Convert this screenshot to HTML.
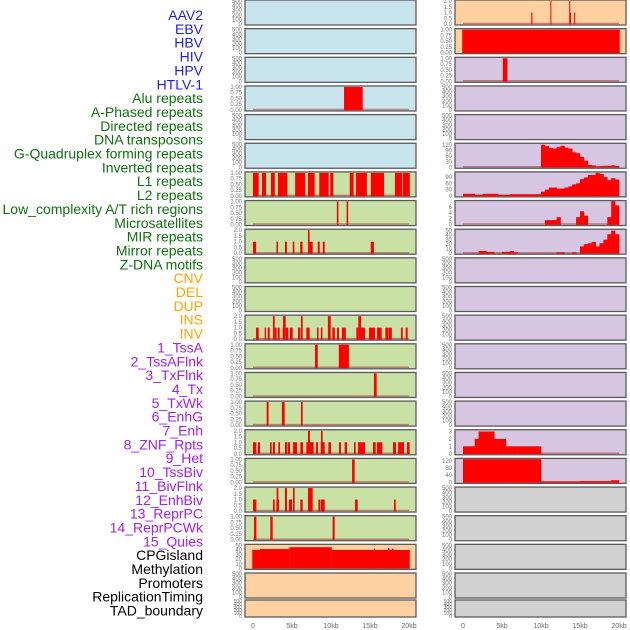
<!DOCTYPE html>
<html><head><meta charset="utf-8"><style>
body{margin:0;background:#fff;width:630px;height:630px;overflow:hidden}
svg{display:block;font-family:"Liberation Sans",sans-serif}
</style></head><body>
<svg id="chart" width="630" height="630" viewBox="0 0 630 630"></svg>
<script>
// ---- labels ----
const trackLabels = ["AAV2","EBV","HBV","HIV","HPV","HTLV-1","Alu repeats","A-Phased repeats","Directed repeats","DNA transposons","G-Quadruplex forming repeats","Inverted repeats","L1 repeats","L2 repeats","Low_complexity A/T rich regions","Microsatellites","MIR repeats","Mirror repeats","Z-DNA motifs","CNV","DEL","DUP","INS","INV","1_TssA","2_TssAFlnk","3_TxFlnk","4_Tx","5_TxWk","6_EnhG","7_Enh","8_ZNF_Rpts","9_Het","10_TssBiv","11_BivFlnk","12_EnhBiv","13_ReprPC","14_ReprPCWk","15_Quies","CPGisland","Methylation","Promoters","ReplicationTiming","TAD_boundary"];
const labelGroups = [6,13,5,15,5];
const xTickLabels = ["0","5kb","10kb","15kb","20kb"];
const xTickValues = [0,5,10,15,20];
// ---- tick label sets ----
const ticks500 = ["0","100","200","300","400","500"];
const ticks1 = ["0.00","0.25","0.50","0.75","1.00"];
const ticks2 = ["0.0","0.5","1.0","1.5","2.0"];
const ticks50 = ["0","10","20","30","40","50"];
const ticks120 = ["0","30","60","90","120"];
const ticks90 = ["0","30","60","90"];
const ticks6 = ["0","2","4","6"];
const ticks3 = ["0","1","2","3"];
const ticks120b = ["0","40","80","120"];
// ---- segment data [startKb, endKb, value] ----
const segAlu = [[11.67,14.06,1]];
const segL1 = [[0,0.73,1],[1.15,1.67,1],[2.3,2.8,1],[3.2,4.4,1],[5.4,6.7,1],[7.05,7.9,1],[8.5,9.7,1],[9.9,10.3,1],[12.4,12.9,1],[13.2,14.6,1],[15.1,16.8,1],[18.2,19.1,1],[19.2,20.1,1]];
const segL2 = [[10.75,10.95,1],[12.0,12.2,1]];
const segMIR = [[0,0.4,1],[3.0,3.2,1],[4.1,4.35,1],[5.1,5.3,1],[6.05,6.35,1],[7.05,7.25,2],[7.25,7.65,1],[8.3,8.55,1],[8.95,9.2,1],[15.1,15.5,1]];
const segINS = [[0.38,0.73,1],[1.5,1.67,1],[1.88,2.14,1],[2.56,2.78,2],[2.78,3.03,1],[3.16,3.42,1],[3.8,4.0,1],[3.85,4.19,2],[4.19,4.53,1],[4.74,5.09,1],[5.77,6.07,1],[6.15,6.37,2],[6.84,7.26,1],[8.2,8.4,1],[8.7,8.9,1],[9.6,9.96,2],[10.17,10.5,1],[10.77,11.03,1],[11.4,11.9,1],[13.25,13.5,1],[13.5,13.85,2],[13.85,14.36,1],[14.87,15.64,1],[15.9,16.5,1],[16.97,17.35,1],[17.4,17.8,1],[18.97,19.2,1],[19.57,19.83,1]];
const segTssA = [[7.95,8.3,1],[11.0,12.3,1]];
const segTssFlnk = [[15.5,15.85,1]];
const segTxFlnk = [[1.75,2.0,1],[3.7,4.06,1],[6.15,6.37,1]];
const segTx = [[0,0.43,1],[0.64,0.9,1],[2.18,2.39,1],[2.56,2.82,1],[3.25,3.46,1],[4.1,4.36,1],[4.44,4.74,1],[5.13,5.64,1],[6.07,6.41,1],[6.84,7.78,1],[7.05,7.3,2],[8.08,8.33,1],[8.68,9.19,1],[8.72,8.93,2],[9.66,10.0,1],[11.03,11.28,1],[11.75,12.05,1],[12.95,13.16,1],[13.46,14.36,1],[15.38,15.73,1],[15.9,16.58,1],[17.95,18.33,1],[18.6,19.36,1],[19.74,20.08,1]];
const segTxWk = [[12.7,13.03,1]];
const segEnhG = [[0,0.43,1],[2.56,2.78,1],[3.0,3.33,1],[3.03,3.25,2],[4.1,4.36,2],[4.6,5.0,1],[5.13,5.34,2],[6.07,6.37,1],[7.05,7.65,2],[8.38,8.6,1],[8.68,9.19,1],[13.08,13.42,1],[18.08,18.3,1]];
const segEnh = [[0.13,0.43,1],[2.22,2.52,1],[10.2,10.47,1]];
const segCPG = [[-0.1,0.9,40],[0.9,4.66,42],[4.66,10.1,46],[10.1,20.1,40],[15.5,15.6,43],[17.3,17.5,44],[17.8,18.0,43]];
const segRightAAV2 = [[8.75,8.9,1],[11.2,11.32,2],[13.62,13.74,2],[13.72,13.84,1],[14.25,14.38,1]];
const segRightEBV = [[-0.1,20.1,1]];
const segRightHBV = [[5.1,5.7,1]];
// ---- histogram data (40 bins of 0.5kb) ----
const histR6 = [0,0,0,0,0,0,0,0,0,0,0,0,0,0,0,0,0,0,0,0,120,113,103,100,108,115,105,100,80,75,55,35,12,10,4,7,8,8,10,7];
const histR7 = [10,10,10,5,5,10,10,10,10,5,5,5,8,8,8,8,8,8,8,8,20,30,40,40,35,35,40,45,55,60,80,88,100,100,110,105,90,75,85,78];
const histR8 = [0,0,0,0,0,0,0,0,0,0,0,0,0,0,0,0,0,0,0,0,0,1.5,1.5,1.5,2.5,0,0,0,0,2.5,4.5,3,0,0,0,0,0,2.5,8,6.5];
const histR9 = [0,0,0,0,5,5,3,3,0,0,3,3,5,2,0,0,0,0,0,0,0,0,0,0,2,2,0,0,2,0,15,20,22,25,15,22,30,42,50,42];
const histR16 = [1,1,1,2,3,3,3,3,2,2,2,1,1,1,1,1,1,1,1,1,0,0,0,0,0,0,0,0,0,0,0,0,0,0,0,0,0,0,0,0];
const histR17 = [130,130,130,130,130,130,130,130,130,130,130,130,130,130,130,130,130,130,130,130,5,5,5,5,5,5,5,5,5,5,8,7,7,7,7,7,7,7,12,12];

const C={blue:"#c8e4ec",orange:"#ffd0a0",purple:"#d6c6e2",green:"#c9e1a5",gray:"#d2d2d2"};
const rows = [
 {L:[C.blue,ticks500,500,null],R:[C.orange,ticks2,2,segRightAAV2]},
 {L:[C.blue,ticks500,500,null],R:[C.orange,ticks1,1,segRightEBV]},
 {L:[C.blue,ticks500,500,null],R:[C.purple,ticks1,1,segRightHBV]},
 {L:[C.blue,ticks1,1,segAlu],R:[C.purple,ticks500,500,null]},
 {L:[C.blue,ticks500,500,null],R:[C.purple,ticks500,500,null]},
 {L:[C.blue,ticks500,500,null],R:[C.purple,ticks120,123,histR6]},
 {L:[C.green,ticks1,1,segL1],R:[C.purple,ticks90,110,histR7]},
 {L:[C.green,ticks1,1,segL2],R:[C.purple,ticks6,7.8,histR8]},
 {L:[C.green,ticks2,2,segMIR],R:[C.purple,ticks50,51,histR9]},
 {L:[C.green,ticks500,500,null],R:[C.purple,ticks500,500,null]},
 {L:[C.green,ticks500,500,null],R:[C.purple,ticks500,500,null]},
 {L:[C.green,ticks2,2,segINS],R:[C.purple,ticks500,500,null]},
 {L:[C.green,ticks1,1,segTssA],R:[C.purple,ticks500,500,null]},
 {L:[C.green,ticks1,1,segTssFlnk],R:[C.purple,ticks500,500,null]},
 {L:[C.green,ticks1,1,segTxFlnk],R:[C.purple,ticks500,500,null]},
 {L:[C.green,ticks2,2,segTx],R:[C.purple,ticks3,3.1,histR16]},
 {L:[C.green,ticks1,1,segTxWk],R:[C.purple,ticks120b,128,histR17]},
 {L:[C.green,ticks2,2,segEnhG],R:[C.gray,ticks500,500,null]},
 {L:[C.green,ticks1,1,segEnh],R:[C.gray,ticks500,500,null]},
 {L:[C.orange,ticks50,50,segCPG],R:[C.gray,ticks500,500,null]},
 {L:[C.orange,ticks500,500,null],R:[C.gray,ticks500,500,null]},
 {L:[C.orange,ticks500,500,null],R:[C.gray,ticks500,500,null]}
];

const NS="http://www.w3.org/2000/svg";
const svg=document.getElementById('chart');
function mk(tag,attrs,parent){const e=document.createElementNS(NS,tag);for(const k in attrs)e.setAttribute(k,attrs[k]);(parent||svg).appendChild(e);return e;}

// labels
const groupColors=["#2020ee","#117011","#ffa500","#a020f0","#000000"];
let gi=0,cnt=0;
trackLabels.forEach((t,i)=>{
  while(cnt>=labelGroups[gi]){gi++;cnt=0;}
  cnt++;
  const el=mk('text',{x:203,y:15+i*13.85+5,'text-anchor':'end','font-size':'14',fill:groupColors[gi]});
  el.textContent=t;
  
  
});

const cols=[{x0:245,x1:416,z:253},{x0:455,x1:626,z:463}];
const kbPx=7.8;
let cid=0;
rows.forEach((row,ri)=>{
  const top = ri<21 ? ri*28.65 : 600;
  const h = ri<21 ? 25 : 17;
  [row.L,row.R].forEach((p,ci)=>{
    const c=cols[ci];
    const xs=kb=>c.z+kb*kbPx;
    const y0=top+h-1, yt=top+1;
    const ys=v=>y0-(v/p[2])*(y0-yt);
    const g=mk('g',{});
    
    
    const bg=mk('rect',{x:c.x0,y:top,width:c.x1-c.x0,height:h,fill:p[0],stroke:'#5a5a5a','stroke-width':1.3},g);
    
    
    const clipId='c'+(cid++);
    const cp=mk('clipPath',{id:clipId},g);
    mk('rect',{x:c.x0+0.7,y:top+0.7,width:c.x1-c.x0-1.4,height:h-1.4},cp);
    const mg=mk('g',{'clip-path':'url(#'+clipId+')'},g);
    // ticks
    p[1].forEach((lab,ti)=>{
      const v=parseFloat(lab);
      const tx=mk('text',{x:c.x0-3,y:ys(v)+2,'text-anchor':'end','font-size':h<20?'5':'6',fill:'#777'},g);
      tx.textContent=lab;
      
      
    });
    const data=p[3];
    if(!data) return;
    if(data.length && Array.isArray(data[0])){
      if(!(data.length===1&&data[0][1]-data[0][0]>15)){
        const bl=mk('line',{x1:xs(0),x2:xs(20),y1:y0-0.5,y2:y0-0.5,stroke:'rgba(160,20,20,0.45)','stroke-width':1.5},mg);
        
        
      }
      data.forEach(s=>{
        const x=xs(s[0]),w=Math.max(1,xs(s[1])-xs(s[0]));
        const r=mk('rect',{x:x,y:ys(s[2]),width:w,height:y0-ys(s[2])+1,fill:'#ff0000'},mg);
        
        
      });
    } else {
      const bl=mk('line',{x1:xs(0),x2:xs(20),y1:y0-0.5,y2:y0-0.5,stroke:'rgba(160,20,20,0.45)','stroke-width':1.5},mg);
      
      
      data.forEach((v,bi)=>{
        if(v<=0) return;
        const x=xs(bi*0.5),w=xs(bi*0.5+0.5)-x+0.3;
        const r=mk('rect',{x:x,y:ys(v),width:w,height:y0-ys(v)+1,fill:'#ff0000'},mg);
        
        
      });
    }
  });
});
// x axis
cols.forEach(c=>{
  xTickValues.forEach((v,i)=>{
    const t=mk('text',{x:c.z+v*kbPx,y:628,'text-anchor':'middle','font-size':'7',fill:'#666'});
    t.textContent=xTickLabels[i];
    
    
  });
});
</script>
</body></html>
